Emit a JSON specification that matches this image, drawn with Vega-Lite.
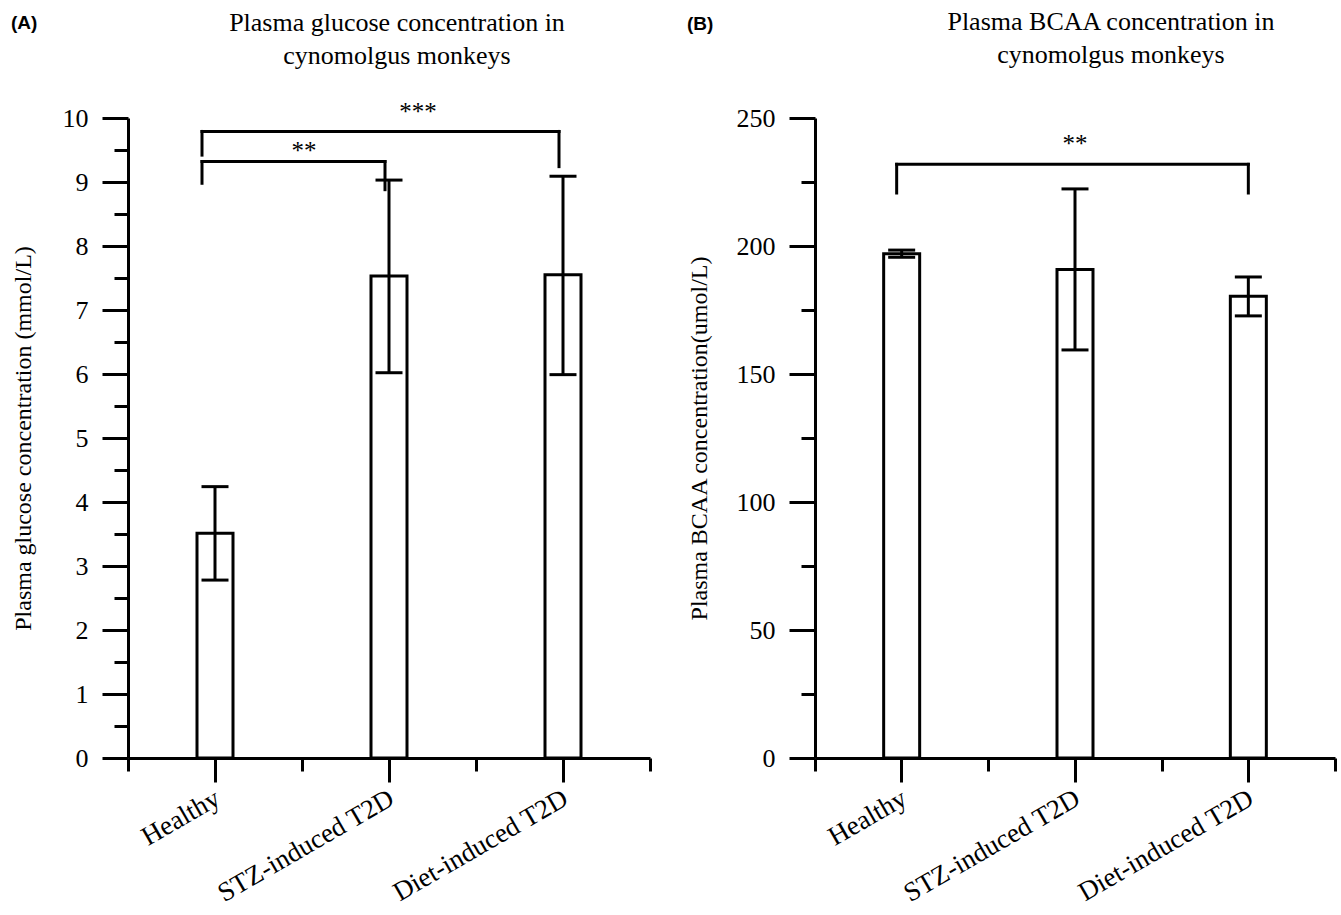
{
  "$schema": "https://vega.github.io/schema/vega-lite/v6.json",
  "background": "white",
  "padding": {"left": 11, "top": 9, "right": 5, "bottom": 5},
  "spacing": 35,
  "datasets": {
    "glucose": [
      {"group": "Healthy", "mean": 3.51, "lo": 2.78, "hi": 4.24},
      {"group": "STZ-induced T2D", "mean": 7.53, "lo": 6.02, "hi": 9.03},
      {"group": "Diet-induced T2D", "mean": 7.55, "lo": 5.99, "hi": 9.09}
    ],
    "bcaa": [
      {"group": "Healthy", "mean": 197.0, "lo": 195.6, "hi": 198.4},
      {"group": "STZ-induced T2D", "mean": 190.8, "lo": 159.4, "hi": 222.3},
      {"group": "Diet-induced T2D", "mean": 180.4, "lo": 172.7, "hi": 187.9}
    ]
  },
  "hconcat": [
    {
      "title": {"text": "(A)", "anchor": "start", "frame": "bounds", "font": "Liberation Sans", "fontWeight": "bold", "fontSize": 19, "offset": -23},
      "vconcat": [
        {
          "width": 522,
          "height": 640,
          "title": {"text": ["Plasma glucose concentration in", "cynomolgus monkeys"], "dx": 8, "offset": 31},
          "resolve": {"axis": {"x": "independent", "y": "independent"}},
          "layer": [
            {
              "data": {"name": "glucose"},
              "mark": {"type": "bar", "width": 36, "fill": "white", "stroke": "black", "strokeWidth": 3},
              "encoding": {
                "x": {"field": "group", "type": "nominal", "scale": {"domain": ["Healthy", "STZ-induced T2D", "Diet-induced T2D"], "paddingInner": 0, "paddingOuter": 0},
                  "axis": {"orient": "bottom", "title": null, "tickSize": 24, "labelAngle": -30, "labelAlign": "right", "labelBaseline": "middle", "labelFontSize": 27, "labelPadding": 14, "labelOffset": 3, "labelLimit": 0}},
                "y": {"field": "mean", "type": "quantitative", "scale": {"domain": [0, 10], "nice": false},
                  "axis": {"orient": "left", "values": [0, 1, 2, 3, 4, 5, 6, 7, 8, 9, 10], "tickSize": 26, "labelFontSize": 26, "labelPadding": 14, "title": "Plasma glucose concentration (mmol/L)", "titleFontSize": 24, "titlePadding": 27}}
              }
            },
            {
              "data": {"name": "glucose"},
              "mark": {"type": "rule", "strokeWidth": 3, "color": "black"},
              "encoding": {
                "x": {"field": "group", "type": "nominal", "axis": {"orient": "bottom", "title": null, "tickBand": "extent", "tickSize": 13, "labels": false, "domain": false}},
                "y": {"field": "lo", "type": "quantitative", "axis": {"orient": "left", "values": [0.5, 1.5, 2.5, 3.5, 4.5, 5.5, 6.5, 7.5, 8.5, 9.5], "tickSize": 14, "labels": false, "domain": false, "title": null}},
                "y2": {"field": "hi"}
              }
            },
            {
              "data": {"name": "glucose"},
              "mark": {"type": "tick", "thickness": 3, "size": 27, "color": "black", "opacity": 1},
              "encoding": {
                "x": {"field": "group", "type": "nominal", "axis": null},
                "y": {"field": "lo", "type": "quantitative", "axis": null}
              }
            },
            {
              "data": {"name": "glucose"},
              "mark": {"type": "tick", "thickness": 3, "size": 27, "color": "black", "opacity": 1},
              "encoding": {
                "x": {"field": "group", "type": "nominal", "axis": null},
                "y": {"field": "hi", "type": "quantitative", "axis": null}
              }
            },
            {
              "data": {"values": [
                {"from": "Healthy", "to": "STZ-induced T2D", "y": 9.32},
                {"from": "Healthy", "to": "Diet-induced T2D", "y": 9.79}
              ]},
              "mark": {"type": "rule", "strokeWidth": 3, "color": "black", "strokeCap": "square", "xOffset": -13, "x2Offset": -4},
              "encoding": {
                "x": {"field": "from", "type": "nominal", "axis": null},
                "x2": {"field": "to"},
                "y": {"field": "y", "type": "quantitative", "axis": null}
              }
            },
            {
              "data": {"values": [
                {"at": "Healthy", "y": 8.98, "y2": 9.32},
                {"at": "Healthy", "y": 9.42, "y2": 9.79}
              ]},
              "mark": {"type": "rule", "strokeWidth": 3, "color": "black", "strokeCap": "square", "xOffset": -13},
              "encoding": {
                "x": {"field": "at", "type": "nominal", "axis": null},
                "y": {"field": "y", "type": "quantitative", "axis": null},
                "y2": {"field": "y2"}
              }
            },
            {
              "data": {"values": [
                {"at": "STZ-induced T2D", "y": 8.88, "y2": 9.32},
                {"at": "Diet-induced T2D", "y": 9.24, "y2": 9.79}
              ]},
              "mark": {"type": "rule", "strokeWidth": 3, "color": "black", "strokeCap": "square", "xOffset": -4},
              "encoding": {
                "x": {"field": "at", "type": "nominal", "axis": null},
                "y": {"field": "y", "type": "quantitative", "axis": null},
                "y2": {"field": "y2"}
              }
            },
            {
              "data": {"values": [{"at": "STZ-induced T2D", "y": 9.36, "label": "**"}]},
              "mark": {"type": "text", "font": "Liberation Serif", "fontSize": 25, "baseline": "alphabetic", "dx": -85, "color": "black"},
              "encoding": {
                "x": {"field": "at", "type": "nominal", "axis": null},
                "y": {"field": "y", "type": "quantitative", "axis": null},
                "text": {"field": "label"}
              }
            },
            {
              "data": {"values": [{"at": "STZ-induced T2D", "y": 9.97, "label": "***"}]},
              "mark": {"type": "text", "font": "Liberation Serif", "fontSize": 25, "baseline": "alphabetic", "dx": 29, "color": "black"},
              "encoding": {
                "x": {"field": "at", "type": "nominal", "axis": null},
                "y": {"field": "y", "type": "quantitative", "axis": null},
                "text": {"field": "label"}
              }
            }
          ]
        }
      ]
    },
    {
      "title": {"text": "(B)", "anchor": "start", "frame": "bounds", "font": "Liberation Sans", "fontWeight": "bold", "fontSize": 19, "offset": -25},
      "vconcat": [
        {
          "width": 520,
          "height": 640,
          "title": {"text": ["Plasma BCAA concentration in", "cynomolgus monkeys"], "dx": 36, "offset": 37},
          "resolve": {"axis": {"x": "independent", "y": "independent"}},
          "layer": [
            {
              "data": {"name": "bcaa"},
              "mark": {"type": "bar", "width": 36, "fill": "white", "stroke": "black", "strokeWidth": 3},
              "encoding": {
                "x": {"field": "group", "type": "nominal", "scale": {"domain": ["Healthy", "STZ-induced T2D", "Diet-induced T2D"], "paddingInner": 0, "paddingOuter": 0},
                  "axis": {"orient": "bottom", "title": null, "tickSize": 24, "labelAngle": -30, "labelAlign": "right", "labelBaseline": "middle", "labelFontSize": 27, "labelPadding": 14, "labelOffset": 3, "labelLimit": 0}},
                "y": {"field": "mean", "type": "quantitative", "scale": {"domain": [0, 250], "nice": false},
                  "axis": {"orient": "left", "values": [0, 50, 100, 150, 200, 250], "tickSize": 26, "labelFontSize": 26, "labelPadding": 14, "title": "Plasma BCAA concentration(umol/L)", "titleFontSize": 24, "titlePadding": 25}}
              }
            },
            {
              "data": {"name": "bcaa"},
              "mark": {"type": "rule", "strokeWidth": 3, "color": "black"},
              "encoding": {
                "x": {"field": "group", "type": "nominal", "axis": {"orient": "bottom", "title": null, "tickBand": "extent", "tickSize": 13, "labels": false, "domain": false}},
                "y": {"field": "lo", "type": "quantitative", "axis": {"orient": "left", "values": [25, 75, 125, 175, 225], "tickSize": 14, "labels": false, "domain": false, "title": null}},
                "y2": {"field": "hi"}
              }
            },
            {
              "data": {"name": "bcaa"},
              "mark": {"type": "tick", "thickness": 3, "size": 27, "color": "black", "opacity": 1},
              "encoding": {
                "x": {"field": "group", "type": "nominal", "axis": null},
                "y": {"field": "lo", "type": "quantitative", "axis": null}
              }
            },
            {
              "data": {"name": "bcaa"},
              "mark": {"type": "tick", "thickness": 3, "size": 27, "color": "black", "opacity": 1},
              "encoding": {
                "x": {"field": "group", "type": "nominal", "axis": null},
                "y": {"field": "hi", "type": "quantitative", "axis": null}
              }
            },
            {
              "data": {"values": [{"from": "Healthy", "to": "Diet-induced T2D", "y": 231.9}]},
              "mark": {"type": "rule", "strokeWidth": 3, "color": "black", "strokeCap": "square", "xOffset": -5, "x2Offset": 0},
              "encoding": {
                "x": {"field": "from", "type": "nominal", "axis": null},
                "x2": {"field": "to"},
                "y": {"field": "y", "type": "quantitative", "axis": null}
              }
            },
            {
              "data": {"values": [{"at": "Healthy", "y": 220.7, "y2": 231.9}]},
              "mark": {"type": "rule", "strokeWidth": 3, "color": "black", "strokeCap": "square", "xOffset": -5},
              "encoding": {
                "x": {"field": "at", "type": "nominal", "axis": null},
                "y": {"field": "y", "type": "quantitative", "axis": null},
                "y2": {"field": "y2"}
              }
            },
            {
              "data": {"values": [{"at": "Diet-induced T2D", "y": 220.7, "y2": 231.9}]},
              "mark": {"type": "rule", "strokeWidth": 3, "color": "black", "strokeCap": "square"},
              "encoding": {
                "x": {"field": "at", "type": "nominal", "axis": null},
                "y": {"field": "y", "type": "quantitative", "axis": null},
                "y2": {"field": "y2"}
              }
            },
            {
              "data": {"values": [{"at": "STZ-induced T2D", "y": 236.7, "label": "**"}]},
              "mark": {"type": "text", "font": "Liberation Serif", "fontSize": 25, "baseline": "alphabetic", "color": "black"},
              "encoding": {
                "x": {"field": "at", "type": "nominal", "axis": null},
                "y": {"field": "y", "type": "quantitative", "axis": null},
                "text": {"field": "label"}
              }
            }
          ]
        }
      ]
    }
  ],
  "config": {
    "view": {"stroke": null},
    "axis": {"domainColor": "black", "tickColor": "black", "domainWidth": 3, "tickWidth": 3, "labelColor": "black", "titleColor": "black", "labelFont": "Liberation Serif", "titleFont": "Liberation Serif", "titleFontWeight": "normal", "grid": false},
    "title": {"font": "Liberation Serif", "fontSize": 26, "fontWeight": "normal", "color": "black", "lineHeight": 33}
  }
}
